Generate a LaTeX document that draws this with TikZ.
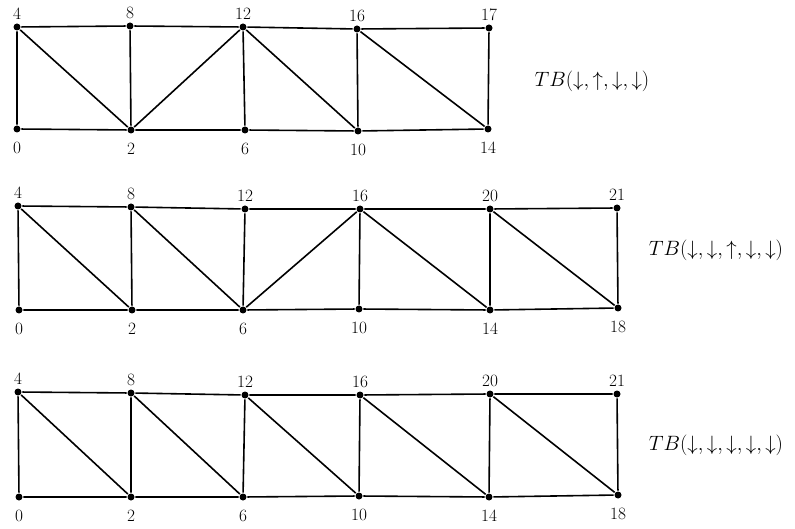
\documentclass[tikz,border=0pt]{standalone}
\usepackage{amsmath,amssymb}
\usetikzlibrary{positioning}

\tikzset{
  vtx/.style={circle, fill, inner sep=0pt, minimum size=7pt},
  lup/.style={label={[label distance=1.5pt]above:#1}},
  ldn/.style={label={[label distance=7pt]below:#1}},
  every label/.style={font=\LARGE, inner sep=1pt},
  tblabel/.style={font=\huge, inner sep=0pt}
}

\begin{document}
\begin{tikzpicture}[x=1pt, y=-1pt, line width=1.6pt]
  \useasboundingbox (0,0) rectangle (795,529);

  % first band
  \node[vtx, lup=4]  (a4)  at (17,27)  {};
  \node[vtx, lup=8]  (a8)  at (130,26) {};
  \node[vtx, lup=12] (a12) at (243,27) {};
  \node[vtx, lup=16] (a16) at (357,29) {};
  \node[vtx, lup=17] (a17) at (489,28) {};
  \node[vtx, ldn=0]  (a0)  at (17,129) {};
  \node[vtx, ldn=2]  (a2)  at (131,130) {};
  \node[vtx, ldn=6]  (a6)  at (245,130) {};
  \node[vtx, ldn=10] (a10) at (358,131) {};
  \node[vtx, ldn=14] (a14) at (488,129) {};
  \node[tblabel] (tba) at (592,81) {$TB(\downarrow,\uparrow,\downarrow,\downarrow)$};

  \draw (a4) -- (a8) -- (a12) -- (a16) -- (a17) -- (a14) -- (a10) -- (a6) -- (a2) -- (a0) -- (a4);
  \draw (a8) -- (a2) (a12) -- (a6) (a16) -- (a10);
  \draw (a4) -- (a2) -- (a12) -- (a10) (a16) -- (a14);

  % second band
  \node[vtx, lup=4]  (b4)  at (18,206)  {};
  \node[vtx, lup=8]  (b8)  at (131,207) {};
  \node[vtx, lup=12] (b12) at (245,209) {};
  \node[vtx, lup=16] (b16) at (360,209) {};
  \node[vtx, lup=20] (b20) at (490,209) {};
  \node[vtx, lup=21] (b21) at (617,208) {};
  \node[vtx, ldn=0]  (b0)  at (19,310) {};
  \node[vtx, ldn=2]  (b2)  at (132,310) {};
  \node[vtx, ldn=6]  (b6)  at (243,310) {};
  \node[vtx, ldn=10] (b10) at (359,309) {};
  \node[vtx, ldn=14] (b14) at (490,310) {};
  \node[vtx, ldn=18] (b18) at (618,308) {};
  \node[tblabel] (tbb) at (716,250) {$TB(\downarrow,\downarrow,\uparrow,\downarrow,\downarrow)$};

  \draw (b4) -- (b8) -- (b12) -- (b16) -- (b20) -- (b21) -- (b18) -- (b14) -- (b10) -- (b6) -- (b2) -- (b0) -- (b4);
  \draw (b8) -- (b2) (b12) -- (b6) (b16) -- (b10) (b20) -- (b14);
  \draw (b4) -- (b2) (b8) -- (b6) -- (b16) -- (b14) (b20) -- (b18);

  % third band
  \node[vtx, lup=4]  (c4)  at (18,392)  {};
  \node[vtx, lup=8]  (c8)  at (131,393) {};
  \node[vtx, lup=12] (c12) at (245,395) {};
  \node[vtx, lup=16] (c16) at (360,395) {};
  \node[vtx, lup=20] (c20) at (490,394) {};
  \node[vtx, lup=21] (c21) at (617,394) {};
  \node[vtx, ldn=0]  (c0)  at (19,497) {};
  \node[vtx, ldn=2]  (c2)  at (131,497) {};
  \node[vtx, ldn=6]  (c6)  at (243,497) {};
  \node[vtx, ldn=10] (c10) at (359,496) {};
  \node[vtx, ldn=14] (c14) at (489,497) {};
  \node[vtx, ldn=18] (c18) at (618,495) {};
  \node[tblabel] (tbc) at (716,445) {$TB(\downarrow,\downarrow,\downarrow,\downarrow,\downarrow)$};

  \draw (c4) -- (c8) -- (c12) -- (c16) -- (c20) -- (c21) -- (c18) -- (c14) -- (c10) -- (c6) -- (c2) -- (c0) -- (c4);
  \draw (c8) -- (c2) (c12) -- (c6) (c16) -- (c10) (c20) -- (c14);
  \draw (c4) -- (c2) (c8) -- (c6) (c12) -- (c10) (c16) -- (c14) (c20) -- (c18);
\end{tikzpicture}
\end{document}
